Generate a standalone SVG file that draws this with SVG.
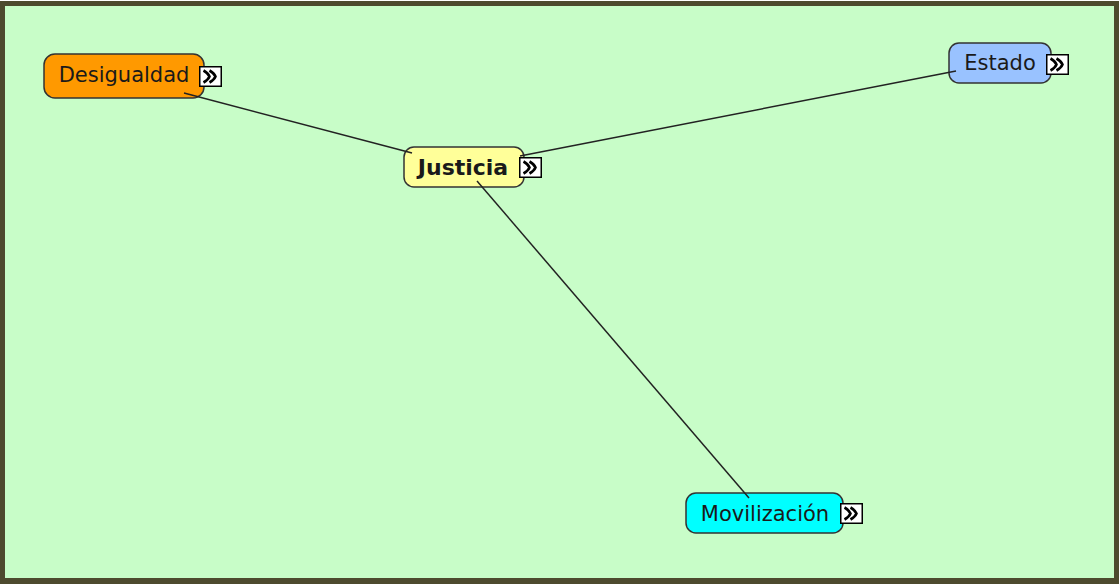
<svg xmlns="http://www.w3.org/2000/svg" width="1119" height="584" viewBox="0 0 1119 584">
<defs>
<style>
.node rect.box{stroke:#333;stroke-width:1.5}
.node text{font-family:"DejaVu Sans",Verdana,sans-serif;font-size:21px;fill:#1a1a1a;text-anchor:middle;dominant-baseline:central}
.conn line{stroke:#222;stroke-width:1.5}
</style>
<g id="ico">
<rect x="0.75" y="0.75" width="21.5" height="19.5" fill="#fff" stroke="#000" stroke-width="1.5"/>
<path d="M4.5 4.5 Q9 7 10.5 10.5 Q9 14 4.5 16.5 M10.5 4.5 Q15 7 16.5 10.5 Q15 14 10.5 16.5" fill="none" stroke="#000" stroke-width="2.6"/>
</g>
</defs>
<rect x="0" y="1" width="1119" height="583" fill="#4d4a2e"/>
<rect x="5" y="6" width="1109" height="572" fill="#c8fdc8"/>
<g id="n-desigualdad" class="node">
<rect class="box" x="44" y="54" width="160" height="44" rx="11" fill="#ff9900"/>
<text x="124" y="75">Desigualdad</text>
<use href="#ico" x="199" y="66"/>
</g>
<g id="n-justicia" class="node">
<rect class="box" x="404" y="147" width="120" height="40" rx="10" fill="#ffff99"/>
<text x="463" y="167" font-weight="bold" style="font-size:22px">Justicia</text>
<use href="#ico" x="519" y="157"/>
</g>
<g id="n-estado" class="node">
<rect class="box" x="949" y="43" width="102" height="40" rx="10" fill="#99c2ff"/>
<text x="1000" y="63">Estado</text>
<use href="#ico" x="1046" y="54"/>
</g>
<g id="n-movilizacion" class="node">
<rect class="box" x="686" y="493" width="157" height="40" rx="10" fill="#00ffff"/>
<text x="765" y="514">Movilización</text>
<use href="#ico" x="840" y="503"/>
</g>
<g id="connectors" class="conn">
<line x1="184" y1="93" x2="412" y2="153"/>
<line x1="520" y1="156" x2="956" y2="71"/>
<line x1="477" y1="181" x2="749" y2="498"/>
</g>
</svg>
